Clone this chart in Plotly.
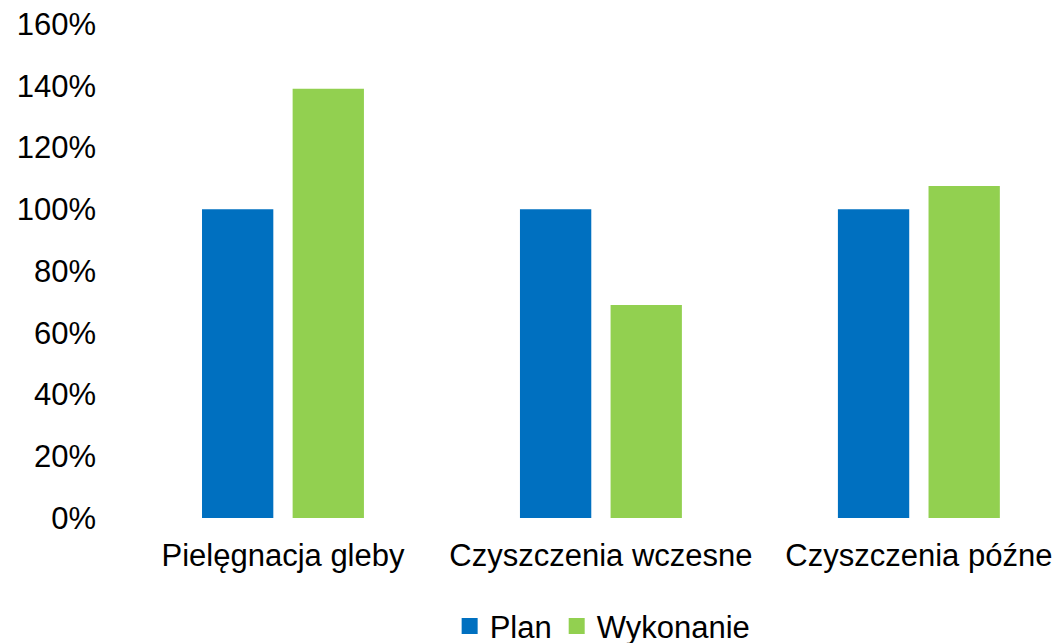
import plotly.graph_objects as go

categories = ["Pielęgnacja gleby", "Czyszczenia wczesne", "Czyszczenia późne"]
plan = [1.00, 1.00, 1.00]
wykonanie = [1.39, 0.69, 1.075]
series_names = ["Plan", "Wykonanie"]
colors = ["#0070C0", "#92D050"]
y_ticks = [0, 0.2, 0.4, 0.6, 0.8, 1.0, 1.2, 1.4, 1.6]

FONT = "Liberation Sans, Arial, sans-serif"

fig = go.Figure()
for name, vals, col in zip(series_names, [plan, wykonanie], colors):
    fig.add_trace(go.Bar(x=categories, y=vals, name=name, marker_color=col,
                         marker_line_width=0, showlegend=False))
# legend markers
for name, col in zip(series_names, colors):
    fig.add_trace(go.Scatter(x=[None], y=[None], mode="markers", name=name,
                             marker=dict(symbol="square", size=16, color=col)))

fig.update_layout(
    width=1061, height=643,
    margin=dict(l=124, r=0, t=24, b=125),
    paper_bgcolor="white", plot_bgcolor="white",
    barmode="group", bargap=0.43, bargroupgap=0.213,
    font=dict(family=FONT, size=31, color="black"),
    legend=dict(orientation="h", xref="container", yref="container",
                x=0.568, y=0.026, xanchor="center", yanchor="middle",
                font=dict(size=31), itemclick=False),
    xaxis=dict(range=[-0.5, 2.447], showgrid=False, showline=False, zeroline=False,
               ticks="", tickfont=dict(size=31), ticklabelstandoff=16),
    yaxis=dict(range=[0, 1.6], tickvals=y_ticks, tickformat=".0%", showgrid=False,
               showline=False, zeroline=False, ticks="", tickfont=dict(size=31),
               ticklabelstandoff=27),
)

fig.write_html("out.html", config={"displayModeBar": False},
               post_script="document.body.style.margin='0';document.body.style.overflow='hidden';")
